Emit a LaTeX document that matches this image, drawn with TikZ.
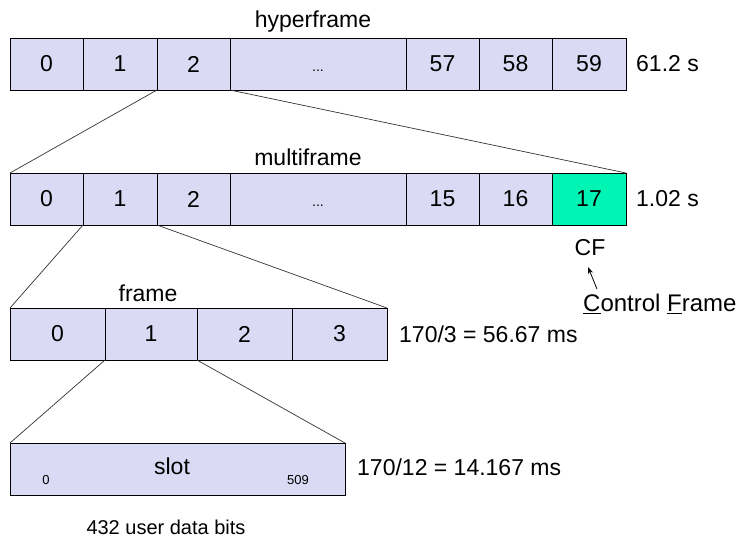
\documentclass[tikz,border=0pt]{standalone}
\usepackage{fontspec}
\setmainfont{Liberation Sans}
\usetikzlibrary{arrows.meta}
\definecolor{lav}{HTML}{DADAF4}
\definecolor{cfgreen}{HTML}{00F5B4}
\newcommand{\celldots}{\vphantom{0}{\fontsize{14}{16}\selectfont ...}}
\begin{document}
\begin{tikzpicture}[x=1pt,y=-1pt,
  cell/.style={draw=black, fill=lav, line width=0.9pt, minimum height=52pt, inner sep=0pt, outer sep=0pt, font=\fontsize{23}{27}\selectfont},
  lbl/.style={inner sep=0pt, font=\fontsize{23}{27}\selectfont},
  small/.style={inner sep=0pt, font=\fontsize{13}{15}\selectfont},
  link/.style={draw=black!80, line width=0.7pt}]
\useasboundingbox (0,0) rectangle (741,538);
% hyperframe
\node[lbl] (hl) at (313,22) {hyperframe};
\node[cell, minimum width=73pt] (h0) at (46.5,64) {0};
\node[cell, minimum width=74pt] (h1) at (120,64) {1};
\node[cell, minimum width=73pt] (h2) at (193.5,64) {2};
\node[cell, minimum width=176pt] (hd) at (318,64) {\celldots};
\node[cell, minimum width=73pt] (h57) at (442.5,64) {57};
\node[cell, minimum width=73pt] (h58) at (515.5,64) {58};
\node[cell, minimum width=74pt] (h59) at (589,64) {59};
\node[lbl, anchor=west] (ht) at (636,64) {61.2 s};
% multiframe
\node[lbl] (ml) at (308,157) {multiframe};
\node[cell, minimum width=73pt] (m0) at (46.5,199) {0};
\node[cell, minimum width=74pt] (m1) at (120,199) {1};
\node[cell, minimum width=73pt] (m2) at (193.5,199) {2};
\node[cell, minimum width=176pt] (md) at (318,199) {\celldots};
\node[cell, minimum width=73pt] (m15) at (442.5,199) {15};
\node[cell, minimum width=73pt] (m16) at (515.5,199) {16};
\node[cell, minimum width=74pt, fill=cfgreen] (m17) at (589,199) {17};
\node[lbl, anchor=west] (mt) at (636,199) {1.02 s};
% CF
\node[lbl] (cf) at (590,248) {CF};
\node[lbl, anchor=west, font=\fontsize{24}{28}\selectfont] (cft) at (583,304) {\underline{C}ontrol \underline{F}rame};
\draw[-{Stealth[length=7pt,width=5pt]}, line width=0.8pt] (597,289) -- (588,267);
% frame
\node[lbl] (fl) at (148,293) {frame};
\node[cell, minimum width=95pt] (f0) at (57.5,334) {0};
\node[cell, minimum width=92pt] (f1) at (151,334) {1};
\node[cell, minimum width=95pt] (f2) at (244.5,334) {2};
\node[cell, minimum width=95pt] (f3) at (339.5,334) {3};
\node[lbl, anchor=west] (ft) at (399,334) {170/3 = 56.67 ms};
% slot
\node[cell, minimum width=335pt] (sl) at (177.5,469) {};
\node[lbl] (st) at (172,466) {slot};
\node[small] (s0) at (46,480) {0};
\node[small] (s509) at (298,480) {509};
\node[lbl, anchor=west] (stt) at (357,467) {170/12 = 14.167 ms};
\node[lbl, font=\fontsize{20}{24}\selectfont] (ub) at (166,527) {432 user data bits};
% connectors
\draw[link] (h2.south west) -- (m0.north west);
\draw[link] (h2.south east) -- (m17.north east);
\draw[link] (m1.south west) -- (f0.north west);
\draw[link] (m1.south east) -- (f3.north east);
\draw[link] (f1.south west) -- (sl.north west);
\draw[link] (f1.south east) -- (sl.north east);
\end{tikzpicture}
\end{document}
